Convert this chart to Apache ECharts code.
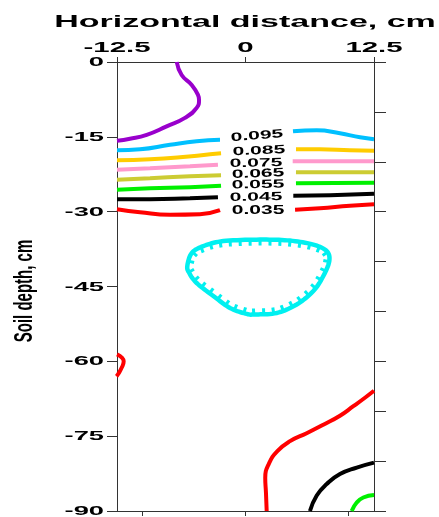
<!DOCTYPE html>
<html><head><meta charset="utf-8">
<script src="https://cdn.jsdelivr.net/npm/echarts@6/dist/echarts.min.js"></script>
<style>html,body{margin:0;padding:0;background:#fff}#c{width:439px;height:517px}</style>
</head><body><div id="c"></div>
<script>
// ---- tick labels / titles ----
const xTicks = [-12.5, 0, 12.5];
const xTickLabels = ['-12.5', '0', '12.5'];
const xBottomTicks = [-10, 0, 10];
const yTicks = [0, -15, -30, -45, -60, -75, -90];
const yTickLabels = ['0', '-15', '-30', '-45', '-60', '-75', '-90'];
const xAxisTitle = 'Horizontal distance, cm';
const yAxisTitle = 'Soil depth, cm';

// ---- contour lines (x cm, depth cm) ----
const c105 = [[-6.69,0],[-6.21,-2.6],[-5.23,-4.6],[-4.62,-6.6],[-4.52,-7.6],[-4.75,-9.2],[-5.89,-11.2],[-7.67,-12.9],[-9.61,-14.6],[-11.24,-15.4],[-12.5,-15.8]];
const c095Left = [[-12.5,-17.7],[-10.26,-17.5],[-7.34,-16.6],[-4.75,-15.9],[-2.48,-15.6]];
const c095Right = [[4.62,-13.9],[6.93,-13.7],[9.19,-14.3],[11.14,-15.1],[12.5,-15.5]];
const c095Loop = [[-5.66,-40.9],[-5.23,-38.3],[-4.10,-36.9],[-2.16,-35.9],[1.41,-35.6],[4.33,-35.8],[6.60,-36.6],[7.90,-37.9],[8.15,-39.9],[7.57,-42.9],[6.60,-45.9],[4.98,-48.6],[3.04,-50.3],[0.92,-50.6],[0.12,-50.5],[-1.51,-49.3],[-3.13,-46.9],[-4.75,-44.3],[-5.47,-42.3]];
const c085Left = [[-12.5,-19.7],[-9.29,-19.5],[-6.37,-19.1],[-3.45,-18.5],[-2.38,-18.3]];
const c085Right = [[4.91,-17.5],[7.24,-17.5],[10.16,-17.7],[12.5,-17.8]];
const c075Left = [[-12.5,-21.6],[-9.29,-21.3],[-5.4,-20.9],[-2.68,-20.6]];
const c075Right = [[4.59,-19.9],[12.5,-19.9]];
const c065Left = [[-12.5,-23.6],[-9.29,-23.3],[-5.4,-22.9],[-2.38,-22.7]];
const c065Right = [[4.91,-22.1],[12.5,-22.1]];
const c055Left = [[-12.5,-25.6],[-9.29,-25.3],[-5.4,-25.1],[-2.38,-24.8]];
const c055Right = [[4.91,-24.3],[12.5,-24.2]];
const c055Bottom = [[10.33,-90],[10.82,-88.3],[11.46,-87.3],[12.5,-86.8]];
const c045Left = [[-12.5,-27.5],[-9.29,-27.5],[-5.4,-27.3],[-2.68,-27.1]];
const c045Right = [[4.65,-26.8],[8.22,-26.7],[12.5,-26.4]];
const c045Bottom = [[6.27,-90],[6.93,-86.9],[7.9,-84.6],[9.19,-82.6],[10.82,-81.3],[12.5,-80.3]];
const c035Left = [[-12.5,-29.5],[-10.26,-30.1],[-7.34,-30.6],[-4.43,-30.5],[-2.48,-29.7]];
const c035Right = [[4.82,-29.6],[7.24,-29.3],[10.16,-28.8],[12.5,-28.5]];
const c035Edge = [[-12.5,-58.6],[-12.0,-59.3],[-11.85,-60.0],[-12.05,-61.3],[-12.4,-62.6],[-12.55,-63.0]];
const c035Bottom = [[2.06,-90],[1.99,-86.3],[1.92,-83.4],[2.3,-80.4],[3.1,-78.0],[4.33,-76.0],[5.95,-74.4],[7.57,-72.7],[9.19,-70.9],[10.49,-69.0],[11.62,-67.3],[12.5,-65.9]];

// ---- contour labels ----
const contourLabels = ['0.095','0.085','0.075','0.065','0.055','0.045','0.035'];
const contourLabelAt = [[1.12,-14.8],[1.31,-17.8],[1.02,-20.3],[1.22,-22.4],[1.22,-24.6],[1.02,-27.1],[1.22,-29.8]];

// ---- styles ----
const labelRot = [0.08,0.04,0.02,0.04,0.02,0.02,0.0];
const col = {c105:'#9900CC', c095:'#00C0FF', loop:'#00F0F0', c085:'#FFCC00', c075:'#FF99CC', c065:'#CCCC33', c055:'#00F000', c045:'#000000', c035:'#FF0000'};
const FONT = '"Liberation Sans", Arial, Helvetica, sans-serif';
const axisColor = '#333';

function line(data, color) {
  return {type:'line', xAxisIndex:0, yAxisIndex:0, data:data, symbol:'none', showSymbol:false,
    smooth:0.5, clip:true, silent:true, z:2, lineStyle:{color:color, width:4}};
}

function closedSpline(pts, n) {
  const out = [], L = pts.length;
  for (let i = 0; i < L; i++) {
    const p0 = pts[(i-1+L)%L], p1 = pts[i], p2 = pts[(i+1)%L], p3 = pts[(i+2)%L];
    for (let k = 0; k < n; k++) {
      const t = k/n, t2 = t*t, t3 = t2*t;
      out.push([0,1].map(d => 0.5*((2*p1[d]) + (-p0[d]+p2[d])*t + (2*p0[d]-5*p1[d]+4*p2[d]-p3[d])*t2 + (-p0[d]+3*p1[d]-3*p2[d]+p3[d])*t3)));
    }
  }
  return out;
}

function renderLoop(params, api) {
  if (params.dataIndex !== 0) return null;
  const pts = c095Loop.map(p => api.coord(p));
  const dense = closedSpline(pts, 10);
  let cx = 0, cy = 0;
  dense.forEach(p => { cx += p[0]; cy += p[1]; });
  cx /= dense.length; cy /= dense.length;
  const children = [{type:'polygon', shape:{points:dense}, style:{fill:'none', stroke:col.loop, lineWidth:4.5}}];
  const spacing = 10;
  let s0 = spacing/2;
  const M = dense.length;
  for (let i = 0; i < M; i++) {
    const a = dense[i], b = dense[(i+1)%M];
    const dx = b[0]-a[0], dy = b[1]-a[1];
    const len = Math.hypot(dx, dy);
    if (len === 0) continue;
    let s = s0;
    while (s <= len) {
      const px = a[0] + dx/len*s, py = a[1] + dy/len*s;
      let nx = -dy/len, ny = dx/len;
      if (nx*(cx-px) + ny*(cy-py) < 0) { nx = -nx; ny = -ny; }
      children.push({type:'line', shape:{x1:px, y1:py, x2:px+nx*6, y2:py+ny*6}, style:{stroke:col.loop, lineWidth:3}});
      s += spacing;
    }
    s0 = s - len;
  }
  return {type:'group', children:children};
}

function renderLabel(params, api) {
  const i = api.value(2);
  const p = api.coord([api.value(0), api.value(1)]);
  return {type:'text', x:p[0], y:p[1], rotation:labelRot[i], scaleX:1.75,
    style:{text:contourLabels[i], font:'bold 12px ' + FONT, fill:'#000',
      textAlign:'center', textVerticalAlign:'middle', align:'center', verticalAlign:'middle'}};
}

const baseAxis = {
  type:'value', splitLine:{show:false}, axisLabel:{show:false},
  axisLine:{show:true, onZero:false, lineStyle:{color:axisColor, width:1}}
};

const option = {
  animation:false,
  backgroundColor:'#fff',
  grid:{left:117, top:62, right:65, bottom:6, containLabel:false},
  xAxis:[
    Object.assign({}, baseAxis, {position:'top', min:-12.5, max:12.5, interval:12.5,
      axisTick:{show:true, inside:false, length:5, lineStyle:{color:axisColor}}}),
    Object.assign({}, baseAxis, {position:'bottom', min:-12.5, max:12.5,
      axisTick:{show:true, inside:false, length:5, customValues:xBottomTicks, lineStyle:{color:axisColor}}})
  ],
  yAxis:[
    Object.assign({}, baseAxis, {position:'left', min:-90, max:0, interval:15,
      axisTick:{show:true, inside:false, length:10, lineStyle:{color:axisColor}}}),
    Object.assign({}, baseAxis, {position:'right', min:-90, max:0, interval:10,
      axisTick:{show:true, inside:false, length:12, lineStyle:{color:axisColor}}})
  ],
  series:[
    line(c105, col.c105),
    line(c095Left, col.c095), line(c095Right, col.c095),
    line(c085Left, col.c085), line(c085Right, col.c085),
    line(c075Left, col.c075), line(c075Right, col.c075),
    line(c065Left, col.c065), line(c065Right, col.c065),
    line(c055Left, col.c055), line(c055Right, col.c055), line(c055Bottom, col.c055),
    line(c045Left, col.c045), line(c045Right, col.c045), line(c045Bottom, col.c045),
    line(c035Left, col.c035), line(c035Right, col.c035), line(c035Edge, col.c035), line(c035Bottom, col.c035),
    {type:'custom', xAxisIndex:0, yAxisIndex:0, data:c095Loop, renderItem:renderLoop, silent:true, z:3},
    {type:'custom', xAxisIndex:0, yAxisIndex:0, data:contourLabelAt.map((p,i)=>[p[0],p[1],i]), renderItem:renderLabel, silent:true, z:4}
  ]
};

const chart = echarts.init(document.getElementById('c'));
chart.setOption(option);

// axis tick labels & titles (stretched text) placed via the axes' own scales
const g = [];
g.push({type:'text', x:245, y:22.5, scaleX:2, silent:true,
  style:{text:xAxisTitle, font:'bold 17px ' + FONT, fill:'#000', textAlign:'center', textVerticalAlign:'middle', align:'center', verticalAlign:'middle'}});
g.push({type:'text', x:25, y:291, rotation:Math.PI/2, scaleY:1.75, silent:true,
  style:{text:yAxisTitle, font:'bold 15px ' + FONT, fill:'#000', textAlign:'center', textVerticalAlign:'middle', align:'center', verticalAlign:'middle'}});
xTicks.forEach((v, i) => {
  const px = chart.convertToPixel({xAxisIndex:0}, v);
  g.push({type:'text', x:px, y:48.5, scaleX:2.1, silent:true,
    style:{text:xTickLabels[i], font:'bold 14px ' + FONT, fill:'#000', textAlign:'center', textVerticalAlign:'middle', align:'center', verticalAlign:'middle'}});
});
yTicks.forEach((v, i) => {
  const py = chart.convertToPixel({yAxisIndex:0}, v);
  g.push({type:'text', x:104, y:py + 0.5, scaleX:2.1, silent:true,
    style:{text:yTickLabels[i], font:'bold 13px ' + FONT, fill:'#000', textAlign:'right', textVerticalAlign:'middle', align:'right', verticalAlign:'middle'}});
});
chart.setOption({graphic:{elements:g}});
</script>
</body></html>
